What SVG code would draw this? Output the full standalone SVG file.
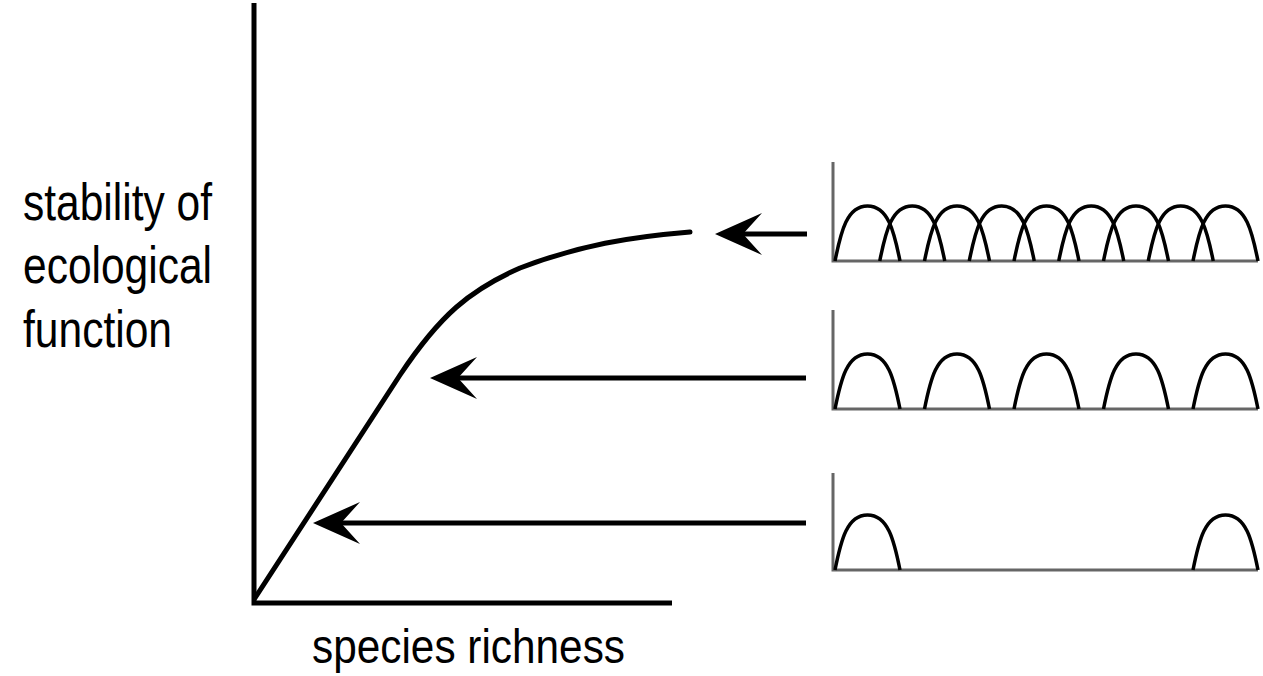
<svg xmlns="http://www.w3.org/2000/svg" xmlns:xlink="http://www.w3.org/1999/xlink" width="1263" height="676" viewBox="0 0 1263 676">
<style>
.lbl{font-family:"Liberation Sans",Arial,sans-serif;fill:#000}
.axis{stroke:#000;stroke-width:5;fill:none}
.curve{stroke:#000;stroke-width:5;fill:none;stroke-linecap:round}
.pax{stroke:#666;stroke-width:3;fill:none}
.hump{stroke:#000;stroke-width:3.5;fill:none}
.shaft{stroke:#000;stroke-width:5;fill:none}
</style>
<defs>
<path id="hump" class="hump" d="M0,0 C6,-30 12,-55 32.5,-55 C53,-55 59,-30 65,0"/>
<marker id="ah" markerUnits="userSpaceOnUse" viewBox="-50 -25 52 50" refX="-25" refY="0" markerWidth="52" markerHeight="50" orient="auto">
<path d="M0,0 L-47,-21 L-28,0 L-47,21 Z" fill="#000"/>
</marker>
</defs>
<rect width="1263" height="676" fill="#fff"/>
<g id="main-chart">
<path class="axis" d="M254,3 L254,603 L672,603"/>
<path class="curve" d="M255,598 L400,375 C440,315 470,290 520,268 C580,245 630,237 690,232"/>
</g>
<g id="y-label">
<text class="lbl" font-size="52" x="23" y="220" textLength="189" lengthAdjust="spacingAndGlyphs">stability of</text>
<text class="lbl" font-size="52" x="23" y="283" textLength="189" lengthAdjust="spacingAndGlyphs">ecological</text>
<text class="lbl" font-size="52" x="23" y="347" textLength="149" lengthAdjust="spacingAndGlyphs">function</text>
</g>
<g id="x-label">
<text class="lbl" font-size="49" x="312" y="663" textLength="313" lengthAdjust="spacingAndGlyphs">species richness</text>
</g>
<g id="panel-high">
<path class="pax" d="M833,162 L833,261 L1258,261"/>
<use xlink:href="#hump" x="835" y="261"/>
<use xlink:href="#hump" x="879.75" y="261"/>
<use xlink:href="#hump" x="924.5" y="261"/>
<use xlink:href="#hump" x="969.25" y="261"/>
<use xlink:href="#hump" x="1014" y="261"/>
<use xlink:href="#hump" x="1058.75" y="261"/>
<use xlink:href="#hump" x="1103.5" y="261"/>
<use xlink:href="#hump" x="1148.25" y="261"/>
<use xlink:href="#hump" x="1193" y="261"/>
</g>
<g id="panel-mid">
<path class="pax" d="M833,310 L833,409 L1258,409"/>
<use xlink:href="#hump" x="835" y="409"/>
<use xlink:href="#hump" x="924.5" y="409"/>
<use xlink:href="#hump" x="1014" y="409"/>
<use xlink:href="#hump" x="1103.5" y="409"/>
<use xlink:href="#hump" x="1193" y="409"/>
</g>
<g id="panel-low">
<path class="pax" d="M833,473 L833,570 L1258,570"/>
<use xlink:href="#hump" x="835" y="570"/>
<use xlink:href="#hump" x="1193" y="570"/>
</g>
<g id="connectors">
<line class="shaft" x1="807" y1="234" x2="740" y2="234" marker-end="url(#ah)"/>
<line class="shaft" x1="806" y1="378" x2="455" y2="378" marker-end="url(#ah)"/>
<line class="shaft" x1="806" y1="523" x2="338" y2="523" marker-end="url(#ah)"/>
</g>
</svg>
